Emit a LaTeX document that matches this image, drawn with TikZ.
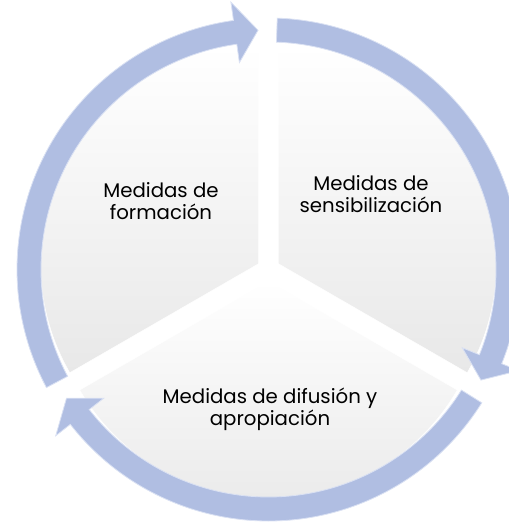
\documentclass[tikz,border=0pt]{standalone}
\usepackage{fontspec}
\setmainfont{Poppins}
\definecolor{ringblue}{RGB}{176,190,226}
\definecolor{ringlight}{RGB}{218,225,243}
\begin{document}
\begin{tikzpicture}[x=0.75pt, y=0.75pt,
    sector/.style = {top color=white, bottom color=black!9, draw=white},
    ringarrow/.style = {fill=ringblue, draw=ringlight, line width=0.6pt, line join=miter},
    every node/.style = {align=center, font=\fontsize{14.8}{16.8}\selectfont, text=black}]
    \useasboundingbox (-268.5,-259.5) rectangle (240.5,269.5);
    \path[sector] (150:11.5) -- ++(90:218) arc[start angle=90, end angle=210, radius=218] -- cycle;
    \path[sector] (30:11.5) -- ++(90:218) arc[start angle=90, end angle=-30, radius=218] -- cycle;
    \path[sector] (270:11.5) -- ++(-30:218) arc[start angle=-30, end angle=-150, radius=218] -- cycle;
    \path[ringarrow] (88:251.5) arc[start angle=88, end angle=-22, radius=251.5]
      -- (-22:270) -- (-27.5:239.5) -- (-22:209) -- (-22:227.5)
      arc[start angle=-22, end angle=88, radius=227.5] -- cycle;
    \path[ringarrow] (-32:251.5) arc[start angle=-32, end angle=-142, radius=251.5]
      -- (-142:270) -- (-147.5:239.5) -- (-142:209) -- (-142:227.5)
      arc[start angle=-142, end angle=-32, radius=227.5] -- cycle;
    \path[ringarrow] (208:251.5) arc[start angle=208, end angle=98, radius=251.5]
      -- (98:270) -- (92.5:239.5) -- (98:209) -- (98:227.5)
      arc[start angle=98, end angle=208, radius=227.5] -- cycle;
    \node (formacion) at (-107.5,68.5) {Medidas de\\ formación};
    \node (sensibilizacion) at (102.5,75.5) {Medidas de\\ sensibilización};
    \node (difusion) at (1.5,-139.5) {Medidas de difusión y\\ apropiación};
\end{tikzpicture}
\end{document}
